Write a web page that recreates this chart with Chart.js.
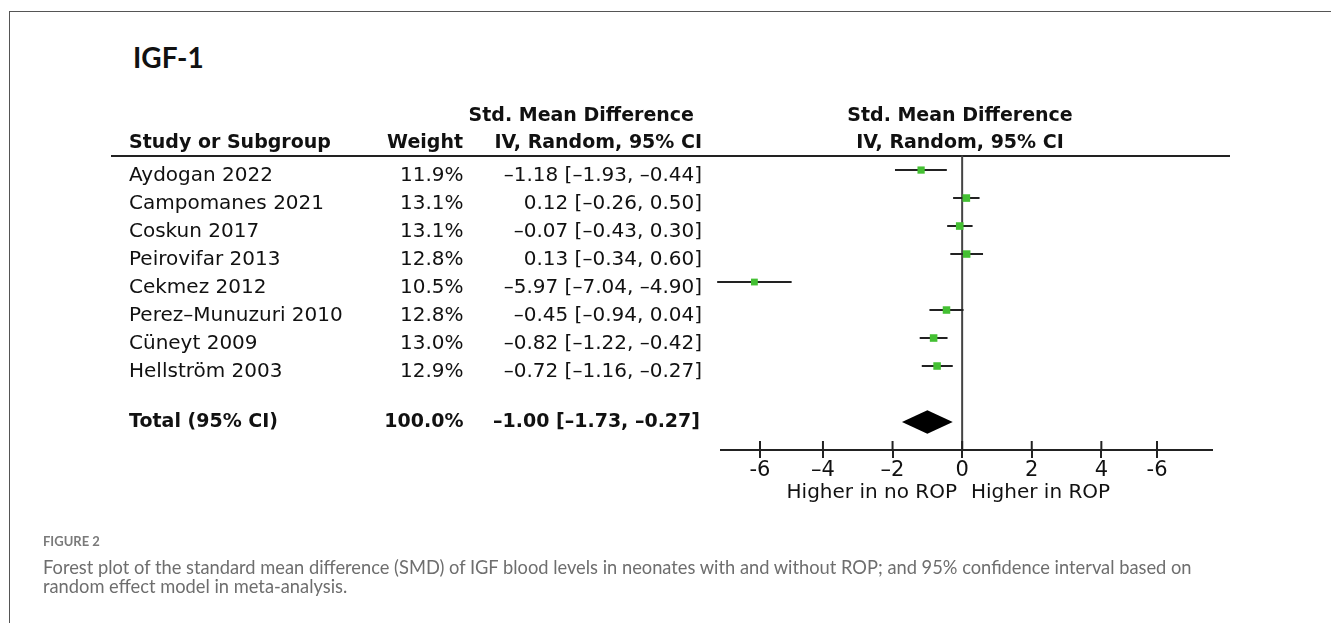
<!DOCTYPE html>
<html>
<head>
<meta charset="utf-8">
<script src="https://cdn.jsdelivr.net/npm/chart.js@4.4.1/dist/chart.umd.min.js"></script>
<style>
  html, body { margin: 0; padding: 0; background: #fff; }
  body { width: 1331px; height: 623px; position: relative; overflow: hidden; }
  #frame { position: absolute; left: 9px; top: 11px; width: 1340px; height: 700px;
           border-left: 1px solid #555; border-top: 1px solid #555; }
  #wrap { position: absolute; left: 0; top: 0; width: 1331px; height: 623px; }
  .t { position: absolute; white-space: nowrap; font-family: 'DejaVu Sans', sans-serif; color: #111; }
  .reg { font-size: 20px; line-height: 20px; }
  .bold { font-size: 19px; line-height: 19px; font-weight: bold; }
  #title { position: absolute; left: 133px; top: 43px; font-family: Lato, sans-serif; font-weight: 700;
           font-size: 28px; line-height: 28px; color: #111; }
  #hline { position: absolute; left: 111px; top: 154.5px; width: 1119px; height: 2px; background: #222; }
  .cap { position: absolute; left: 43px; font-family: Lato, sans-serif; color: #6e6e6e; white-space: nowrap; }
</style>
</head>
<body>
<div id="frame"></div>
<div id="title">IGF-1</div>
<div id="hline"></div>
<div id="wrap"><canvas id="c"></canvas></div>
<div id="texts"></div>
<div class="cap" id="fig" style="top:535px;font-size:13px;line-height:13px;font-weight:700;color:#7a7a7a;">FIGURE 2</div>
<div class="cap" id="cap1" style="top:558px;font-size:18.3px;line-height:18px;">Forest plot of the standard mean difference (SMD) of IGF blood levels in neonates with and without ROP; and 95% confidence interval based on</div>
<div class="cap" id="cap2" style="top:577px;font-size:18.3px;line-height:18px;">random effect model in meta-analysis.</div>
<script>
// ---- data ----
const studies = ['Aydogan 2022', 'Campomanes 2021', 'Coskun 2017', 'Peirovifar 2013',
                 'Cekmez 2012', 'Perez\u2013Munuzuri 2010', 'Cüneyt 2009', 'Hellström 2003'];
const weights = [11.9, 13.1, 13.1, 12.8, 10.5, 12.8, 13.0, 12.9];
const smd     = [-1.18, 0.12, -0.07, 0.13, -5.97, -0.45, -0.82, -0.72];
const lower   = [-1.93, -0.26, -0.43, -0.34, -7.04, -0.94, -1.22, -1.16];
const upper   = [-0.44, 0.50, 0.30, 0.60, -4.90, 0.04, -0.42, -0.27];
const totalWeight = 100.0;
const totalSMD = [-1.00, -1.73, -0.27];   // estimate, lower, upper
const tickValues = [-5.81, -4, -2, 0, 2, 4, 5.6];
const tickLabels = ['-6', '\u20134', '\u20132', '0', '2', '4', '-6'];

// ---- text table ----
const fmt = v => (v < 0 ? '\u2013' : '') + Math.abs(v).toFixed(2);
const ciText = (e, l, h) => `${fmt(e)} [${fmt(l)}, ${fmt(h)}]`;
const texts = document.getElementById('texts');
function addText(str, cls, x, baseline, align) {
  const d = document.createElement('div');
  d.className = 't ' + cls;
  d.textContent = str;
  const off = cls === 'bold' ? 16.1 : 16.9;
  d.style.top = (baseline - off) + 'px';
  if (align === 'right') { d.style.right = (1331 - x) + 'px'; d.style.textAlign = 'right'; }
  else if (align === 'center') { d.style.left = (x - 300) + 'px'; d.style.width = '600px'; d.style.textAlign = 'center'; }
  else d.style.left = x + 'px';
  texts.appendChild(d);
}
addText('Std. Mean Difference', 'bold', 694, 120.7, 'right');
addText('Std. Mean Difference', 'bold', 960, 120.7, 'center');
addText('Study or Subgroup', 'bold', 129, 148.3, 'left');
addText('Weight', 'bold', 463, 148.3, 'right');
addText('IV, Random, 95% CI', 'bold', 702, 148.3, 'right');
addText('IV, Random, 95% CI', 'bold', 960, 148.3, 'center');
studies.forEach((s, i) => {
  const b = 180.7 + 28 * i;
  addText(s, 'reg', 129, b, 'left');
  addText(weights[i].toFixed(1) + '%', 'reg', 463.5, b, 'right');
  addText(ciText(smd[i], lower[i], upper[i]), 'reg', 702, b, 'right');
});
addText('Total (95% CI)', 'bold', 129, 427.5, 'left');
addText(totalWeight.toFixed(1) + '%', 'bold', 463.5, 427.5, 'right');
addText(ciText(totalSMD[0], totalSMD[1], totalSMD[2]), 'bold', 700, 427.5, 'right');
addText('Higher in no ROP', 'reg', 957, 497.5, 'right');
addText('Higher in ROP', 'reg', 971, 497.5, 'left');

// ---- chart ----
const ciData = [];
studies.forEach((s, i) => {
  ciData.push({ x: lower[i], y: i }, { x: upper[i], y: i }, { x: null, y: null });
});
const squareData = studies.map((s, i) => ({ x: smd[i], y: i }));
const squareRadius = weights.map(w => 7.6 * Math.sqrt(w / 13.1) / Math.SQRT2);
const totalRow = studies.length + 1;

const forestPlugin = {
  id: 'forest',
  beforeDatasetsDraw(chart) {
    const { ctx, chartArea, scales: { x } } = chart;
    const x0 = x.getPixelForValue(0);
    ctx.save();
    ctx.strokeStyle = '#444';
    ctx.lineWidth = 2;
    ctx.beginPath();
    ctx.moveTo(x0, chartArea.top);
    ctx.lineTo(x0, chartArea.bottom);
    ctx.stroke();
    ctx.restore();
  },
  afterDatasetsDraw(chart) {
    const { ctx, scales: { x, y } } = chart;
    const yc = y.getPixelForValue(totalRow);
    const half = y.getPixelForValue(totalRow + 0.42) - yc;
    ctx.save();
    ctx.fillStyle = '#000';
    ctx.beginPath();
    ctx.moveTo(x.getPixelForValue(totalSMD[1]), yc);
    ctx.lineTo(x.getPixelForValue(totalSMD[0]), yc - half);
    ctx.lineTo(x.getPixelForValue(totalSMD[2]), yc);
    ctx.lineTo(x.getPixelForValue(totalSMD[0]), yc + half);
    ctx.closePath();
    ctx.fill();
    ctx.restore();
  },
  afterDraw(chart) {
    const { ctx, chartArea, scales: { x } } = chart;
    ctx.save();
    ctx.strokeStyle = '#222';
    ctx.lineWidth = 2;
    tickValues.forEach(v => {
      const px = x.getPixelForValue(v);
      ctx.beginPath();
      ctx.moveTo(px, chartArea.bottom - 9);
      ctx.lineTo(px, chartArea.bottom);
      ctx.stroke();
    });
    ctx.restore();
  }
};

new Chart(document.getElementById('c'), {
  type: 'scatter',
  data: {
    datasets: [
      {
        label: 'SMD',
        data: squareData,
        pointStyle: 'rect',
        pointRadius: squareRadius,
        pointBackgroundColor: '#44c033',
        pointBorderWidth: 0,
        pointBorderColor: '#44c033',
        showLine: false,
        clip: false
      },
      {
        label: '95% CI',
        data: ciData,
        showLine: true,
        spanGaps: false,
        borderColor: '#222',
        borderWidth: 2,
        pointRadius: 0,
        clip: false
      }
    ]
  },
  options: {
    responsive: true,
    maintainAspectRatio: false,
    animation: false,
    events: [],
    layout: { padding: { left: 721, right: 119, top: 155.5, bottom: 123 } },
    plugins: { legend: { display: false }, tooltip: { enabled: false } },
    scales: {
      x: {
        type: 'linear',
        min: -6.93,
        max: 7.18,
        afterBuildTicks: s => { s.ticks = tickValues.map(v => ({ value: v })); },
        afterFit: s => { s.height = 50; },
        ticks: {
          autoSkip: false,
          maxRotation: 0,
          padding: 0,
          color: '#111',
          font: { family: 'DejaVu Sans', size: 21 },
          callback: (v, i) => tickLabels[i]
        },
        grid: { display: true, drawOnChartArea: false, drawTicks: true, tickLength: 8, color: '#222', lineWidth: 2 },
        border: { display: true, color: '#222', width: 2 }
      },
      y: { type: 'linear', min: -0.52, max: 10, reverse: true, display: false }
    }
  },
  plugins: [forestPlugin]
});
</script>
</body>
</html>
